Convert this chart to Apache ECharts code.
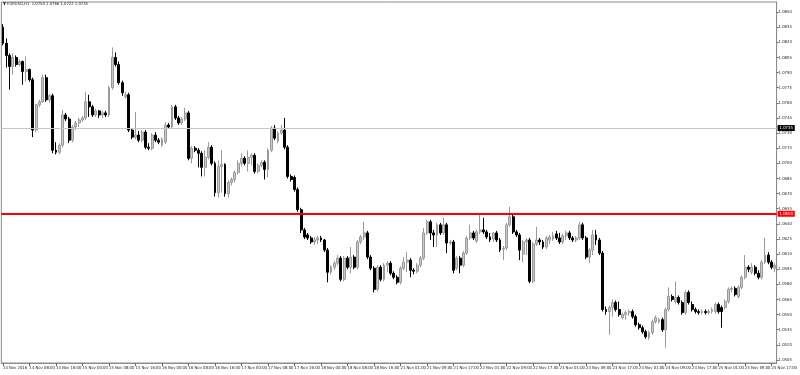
<!DOCTYPE html>
<html><head><meta charset="utf-8">
<script src="https://cdn.jsdelivr.net/npm/echarts@6/dist/echarts.min.js"></script>
<style>html,body{margin:0;padding:0;background:#fff}#c{width:800px;height:375px}</style>
</head><body><div id="c"></div>
<script>
const titleText = '\u25BC EURUSD,H1  1.0750 1.0766 1.0722 1.0735';
const redLevel = 1.0650;
const priceLevel = 1.0735;
const yTicks = [1.0505,1.0520,1.0535,1.0550,1.0565,1.0580,1.0595,1.0610,1.0625,1.0640,1.0655,1.0670,1.0685,1.0700,1.0715,1.0730,1.0745,1.0760,1.0775,1.0790,1.0805,1.0820,1.0835,1.0850];
const tickLabels = ['14 Nov 2016','14 Nov 08:00','14 Nov 16:00','15 Nov 00:00','15 Nov 08:00','15 Nov 16:00','16 Nov 00:00','16 Nov 08:00','16 Nov 16:00','17 Nov 00:00','17 Nov 08:00','17 Nov 16:00','18 Nov 00:00','18 Nov 08:00','18 Nov 16:00','21 Nov 01:00','21 Nov 09:00','21 Nov 17:00','22 Nov 01:00','22 Nov 09:00','22 Nov 17:00','23 Nov 01:00','23 Nov 09:00','23 Nov 17:00','24 Nov 01:00','24 Nov 09:00','24 Nov 17:00','25 Nov 01:00','25 Nov 09:00','25 Nov 17:00'];

const opens = [
1.0835,1.0819,1.0807,1.0796,1.0805,1.0798,1.0801,1.0791,1.0793,1.0783,
1.0733,1.0758,1.0761,1.0785,1.0763,1.0767,1.0713,1.0711,1.0718,1.0748,
1.0744,1.0723,1.0736,1.0740,1.0743,1.0745,1.0761,1.0756,1.0748,1.0752,
1.0748,1.0750,1.0748,1.0775,1.0805,1.0798,1.0780,1.0766,1.0768,1.0733,
1.0726,1.0728,1.0723,1.0731,1.0716,1.0715,1.0728,1.0723,1.0718,1.0721,
1.0738,1.0736,1.0756,1.0745,1.0740,1.0744,1.0750,1.0705,1.0715,1.0713,
1.0710,1.0696,1.0706,1.0716,1.0700,1.0671,1.0697,1.0699,1.0670,1.0681,
1.0684,1.0691,1.0700,1.0705,1.0700,1.0706,1.0708,1.0692,1.0698,1.0701,
1.0694,1.0713,1.0735,1.0722,1.0730,1.0733,1.0716,1.0687,1.0686,1.0674,
1.0654,1.0634,1.0629,1.0626,1.0622,1.0624,1.0626,1.0624,1.0614,1.0592,
1.0597,1.0601,1.0606,1.0585,1.0606,1.0597,1.0607,1.0597,1.0622,1.0627,
1.0631,1.0607,1.0596,1.0575,1.0597,1.0585,1.0599,1.0601,1.0591,1.0587,
1.0582,1.0596,1.0602,1.0604,1.0594,1.0593,1.0599,1.0606,1.0631,1.0642,
1.0631,1.0629,1.0639,1.0631,1.0639,1.0621,1.0622,1.0596,1.0606,1.0599,
1.0611,1.0626,1.0631,1.0623,1.0632,1.0634,1.0632,1.0627,1.0625,1.0631,
1.0624,1.0615,1.0616,1.0639,1.0647,1.0632,1.0629,1.0610,1.0622,1.0624,
1.0583,1.0620,1.0624,1.0622,1.0617,1.0624,1.0625,1.0630,1.0626,1.0622,
1.0628,1.0631,1.0626,1.0624,1.0626,1.0639,1.0626,1.0607,1.0614,1.0629,
1.0624,1.0611,1.0555,1.0553,1.0557,1.0562,1.0555,1.0547,1.0550,1.0552,
1.0553,1.0548,1.0540,1.0537,1.0533,1.0527,1.0532,1.0543,1.0543,1.0545,
1.0535,1.0555,1.0568,1.0563,1.0567,1.0562,1.0552,1.0572,1.0560,1.0555,
1.0553,1.0552,1.0553,1.0552,1.0553,1.0553,1.0560,1.0557,1.0557,1.0563,
1.0575,1.0576,1.0568,1.0577,1.0587,1.0597,1.0592,1.0597,1.0591,1.0587,
1.0602,1.0609,1.0602,1.0596];

const closes = [
1.0819,1.0807,1.0796,1.0805,1.0798,1.0801,1.0791,1.0793,1.0783,1.0733,
1.0758,1.0761,1.0785,1.0763,1.0767,1.0713,1.0711,1.0718,1.0748,1.0744,
1.0723,1.0736,1.0740,1.0743,1.0745,1.0761,1.0756,1.0748,1.0752,1.0748,
1.0750,1.0748,1.0775,1.0805,1.0798,1.0780,1.0770,1.0768,1.0733,1.0726,
1.0728,1.0723,1.0731,1.0716,1.0715,1.0728,1.0723,1.0721,1.0724,1.0738,
1.0736,1.0756,1.0745,1.0740,1.0744,1.0750,1.0705,1.0715,1.0713,1.0710,
1.0696,1.0706,1.0716,1.0700,1.0671,1.0697,1.0699,1.0670,1.0681,1.0684,
1.0691,1.0700,1.0705,1.0700,1.0706,1.0708,1.0692,1.0698,1.0701,1.0694,
1.0713,1.0735,1.0725,1.0730,1.0733,1.0716,1.0687,1.0684,1.0674,1.0654,
1.0634,1.0627,1.0626,1.0622,1.0624,1.0626,1.0624,1.0614,1.0592,1.0597,
1.0601,1.0606,1.0585,1.0606,1.0597,1.0607,1.0597,1.0622,1.0627,1.0631,
1.0607,1.0596,1.0575,1.0597,1.0585,1.0599,1.0601,1.0591,1.0587,1.0582,
1.0596,1.0602,1.0604,1.0594,1.0593,1.0599,1.0606,1.0631,1.0642,1.0631,
1.0629,1.0639,1.0631,1.0639,1.0621,1.0622,1.0594,1.0606,1.0599,1.0611,
1.0626,1.0631,1.0626,1.0632,1.0634,1.0632,1.0627,1.0624,1.0631,1.0624,
1.0614,1.0616,1.0639,1.0647,1.0632,1.0629,1.0614,1.0622,1.0624,1.0583,
1.0620,1.0624,1.0622,1.0617,1.0626,1.0627,1.0628,1.0626,1.0622,1.0628,
1.0631,1.0626,1.0624,1.0626,1.0639,1.0626,1.0607,1.0614,1.0629,1.0624,
1.0611,1.0555,1.0553,1.0557,1.0562,1.0555,1.0550,1.0550,1.0552,1.0553,
1.0548,1.0540,1.0537,1.0533,1.0528,1.0532,1.0543,1.0547,1.0545,1.0535,
1.0555,1.0568,1.0565,1.0567,1.0562,1.0552,1.0572,1.0562,1.0555,1.0553,
1.0552,1.0553,1.0552,1.0553,1.0555,1.0560,1.0553,1.0553,1.0563,1.0575,
1.0576,1.0570,1.0577,1.0587,1.0597,1.0595,1.0597,1.0591,1.0587,1.0602,
1.0609,1.0602,1.0597,1.0599];

const lows = [
1.0817,1.0795,1.0773,1.0788,1.0796,1.0796,1.0778,1.0781,1.0781,1.0726,
1.0731,1.0756,1.0760,1.0761,1.0760,1.0710,1.0709,1.0709,1.0716,1.0742,
1.0720,1.0721,1.0733,1.0736,1.0741,1.0743,1.0746,1.0746,1.0746,1.0745,
1.0745,1.0746,1.0746,1.0773,1.0796,1.0778,1.0767,1.0764,1.0731,1.0724,
1.0724,1.0721,1.0721,1.0714,1.0713,1.0713,1.0721,1.0719,1.0716,1.0719,
1.0734,1.0734,1.0743,1.0738,1.0738,1.0742,1.0703,1.0700,1.0711,1.0696,
1.0687,1.0687,1.0704,1.0698,1.0667,1.0666,1.0671,1.0667,1.0666,1.0678,
1.0681,1.0689,1.0697,1.0698,1.0692,1.0698,1.0690,1.0690,1.0696,1.0684,
1.0686,1.0711,1.0723,1.0720,1.0728,1.0714,1.0685,1.0682,1.0672,1.0652,
1.0631,1.0625,1.0624,1.0620,1.0619,1.0620,1.0622,1.0612,1.0582,1.0590,
1.0594,1.0599,1.0583,1.0583,1.0595,1.0591,1.0595,1.0595,1.0620,1.0624,
1.0605,1.0594,1.0572,1.0573,1.0583,1.0583,1.0592,1.0589,1.0585,1.0580,
1.0580,1.0594,1.0592,1.0587,1.0590,1.0591,1.0597,1.0604,1.0629,1.0624,
1.0617,1.0617,1.0629,1.0629,1.0611,1.0619,1.0591,1.0594,1.0591,1.0597,
1.0609,1.0624,1.0624,1.0621,1.0630,1.0630,1.0625,1.0622,1.0622,1.0622,
1.0612,1.0604,1.0614,1.0637,1.0630,1.0627,1.0604,1.0602,1.0609,1.0581,
1.0581,1.0618,1.0619,1.0615,1.0615,1.0620,1.0623,1.0624,1.0620,1.0620,
1.0624,1.0624,1.0622,1.0622,1.0624,1.0624,1.0605,1.0601,1.0609,1.0619,
1.0609,1.0553,1.0550,1.0530,1.0548,1.0553,1.0548,1.0545,1.0545,1.0549,
1.0546,1.0538,1.0535,1.0531,1.0526,1.0525,1.0530,1.0541,1.0541,1.0533,
1.0517,1.0553,1.0563,1.0561,1.0560,1.0550,1.0550,1.0560,1.0553,1.0551,
1.0550,1.0550,1.0550,1.0550,1.0551,1.0551,1.0551,1.0537,1.0555,1.0561,
1.0572,1.0568,1.0566,1.0575,1.0585,1.0592,1.0590,1.0589,1.0585,1.0585,
1.0600,1.0600,1.0595,1.0592];

const highs = [
1.0838,1.0824,1.0809,1.0809,1.0807,1.0803,1.0802,1.0806,1.0794,1.0785,
1.0759,1.0763,1.0788,1.0788,1.0769,1.0769,1.0721,1.0720,1.0753,1.0750,
1.0746,1.0738,1.0742,1.0745,1.0747,1.0771,1.0768,1.0758,1.0754,1.0753,
1.0752,1.0752,1.0777,1.0815,1.0810,1.0801,1.0782,1.0771,1.0770,1.0735,
1.0751,1.0732,1.0733,1.0733,1.0720,1.0730,1.0731,1.0725,1.0726,1.0741,
1.0740,1.0758,1.0758,1.0747,1.0746,1.0755,1.0752,1.0717,1.0717,1.0715,
1.0712,1.0713,1.0721,1.0718,1.0702,1.0703,1.0713,1.0700,1.0683,1.0686,
1.0693,1.0703,1.0710,1.0707,1.0713,1.0710,1.0710,1.0700,1.0703,1.0703,
1.0715,1.0737,1.0738,1.0732,1.0738,1.0745,1.0718,1.0689,1.0688,1.0676,
1.0656,1.0636,1.0631,1.0628,1.0627,1.0628,1.0628,1.0625,1.0616,1.0599,
1.0603,1.0609,1.0608,1.0608,1.0608,1.0617,1.0609,1.0624,1.0629,1.0642,
1.0633,1.0609,1.0598,1.0599,1.0599,1.0601,1.0603,1.0603,1.0593,1.0589,
1.0598,1.0607,1.0612,1.0606,1.0596,1.0601,1.0608,1.0636,1.0644,1.0644,
1.0634,1.0641,1.0641,1.0646,1.0641,1.0624,1.0624,1.0608,1.0608,1.0613,
1.0628,1.0639,1.0633,1.0634,1.0649,1.0646,1.0634,1.0631,1.0632,1.0633,
1.0626,1.0618,1.0641,1.0657,1.0649,1.0634,1.0631,1.0624,1.0626,1.0626,
1.0622,1.0637,1.0626,1.0624,1.0628,1.0629,1.0632,1.0633,1.0631,1.0630,
1.0633,1.0633,1.0628,1.0628,1.0642,1.0641,1.0628,1.0616,1.0634,1.0634,
1.0626,1.0613,1.0558,1.0559,1.0565,1.0564,1.0563,1.0552,1.0554,1.0555,
1.0555,1.0550,1.0542,1.0539,1.0535,1.0534,1.0545,1.0549,1.0547,1.0547,
1.0557,1.0577,1.0570,1.0583,1.0569,1.0564,1.0574,1.0574,1.0563,1.0557,
1.0555,1.0555,1.0555,1.0555,1.0557,1.0562,1.0562,1.0559,1.0565,1.0577,
1.0578,1.0578,1.0579,1.0589,1.0609,1.0599,1.0601,1.0599,1.0594,1.0604,
1.0626,1.0612,1.0604,1.0601];

// hourly categories (trading hours, weekend skipped)
const categories = [];
const pad = n => (n < 10 ? '0' : '') + n;
[14,15,16,17,18].forEach(d => { for (let h = 0; h < 24; h++) { if (d === 18 && h === 23) continue; categories.push(d + ' Nov ' + pad(h) + ':00'); } });
[21,22,23,24,25].forEach(d => { for (let h = 0; h < 24; h++) { if (categories.length < opens.length) categories.push(d + ' Nov ' + pad(h) + ':00'); } });

const data = opens.map((o, i) => [o, closes[i], lows[i], highs[i]]);
const FONT = '"Liberation Sans Narrow", "DejaVu Sans Condensed", "Liberation Sans", sans-serif';
const FS = 4.2;
const chart = echarts.init(document.getElementById('c'));
chart.setOption({
  animation: false,
  backgroundColor: '#ffffff',
  grid: { left: 1, right: 17, top: 2, bottom: 12, show: true, borderColor: '#8c8c8c', borderWidth: 1, backgroundColor: 'transparent' },
  xAxis: {
    type: 'category', data: categories, boundaryGap: true,
    axisLine: { show: true, lineStyle: { color: '#8c8c8c', width: 1 } },
    axisTick: { show: true, alignWithLabel: true, interval: 7, length: 3, lineStyle: { color: '#666' } },
    axisLabel: { interval: 7, showMinLabel: true, hideOverlap: false, formatter: (v, idx) => tickLabels[Math.round(idx / 8)] || '', align: 'left', margin: 3, fontSize: FS, color: '#222', fontFamily: FONT },
    splitLine: { show: false }
  },
  yAxis: {
    type: 'value', position: 'right', min: 1.0502, max: 1.0860,
    axisLine: { show: true, lineStyle: { color: '#8c8c8c', width: 1 } },
    axisTick: { show: true, customValues: yTicks, length: 2, lineStyle: { color: '#666' } },
    axisLabel: { customValues: yTicks, formatter: v => v.toFixed(4), fontSize: FS, margin: 2, color: '#222', fontFamily: FONT },
    splitLine: { show: false }
  },
  series: [{
    type: 'candlestick', data: data, barWidth: 2.4,
    itemStyle: { color: '#c8c8c8', color0: '#000000', borderColor: '#9a9a9a', borderColor0: '#000000', borderWidth: 1 }
  }, {
    type: 'line', data: [], silent: true,
    markLine: {
      symbol: 'none', silent: true, animation: false, precision: 4,
      data: [
        { yAxis: redLevel, lineStyle: { color: '#ff0000', width: 2, type: 'solid' },
          label: { show: true, position: 'end', distance: 1, formatter: redLevel.toFixed(4), backgroundColor: '#ff0000', color: '#ffffff', fontSize: FS, padding: [1, 2, 1, 2], fontFamily: FONT } },
        { yAxis: priceLevel, lineStyle: { color: '#c3c6d4', width: 1, type: 'solid' },
          label: { show: true, position: 'end', distance: 1, formatter: priceLevel.toFixed(4), backgroundColor: '#000000', color: '#ffffff', fontSize: FS, padding: [1, 2, 1, 2], fontFamily: FONT } }
      ]
    }
  }],
  graphic: [{ type: 'text', left: 3, top: 2, style: { text: titleText, fontSize: FS, fill: '#222', fontFamily: FONT } }]
});
</script>
</body></html>
